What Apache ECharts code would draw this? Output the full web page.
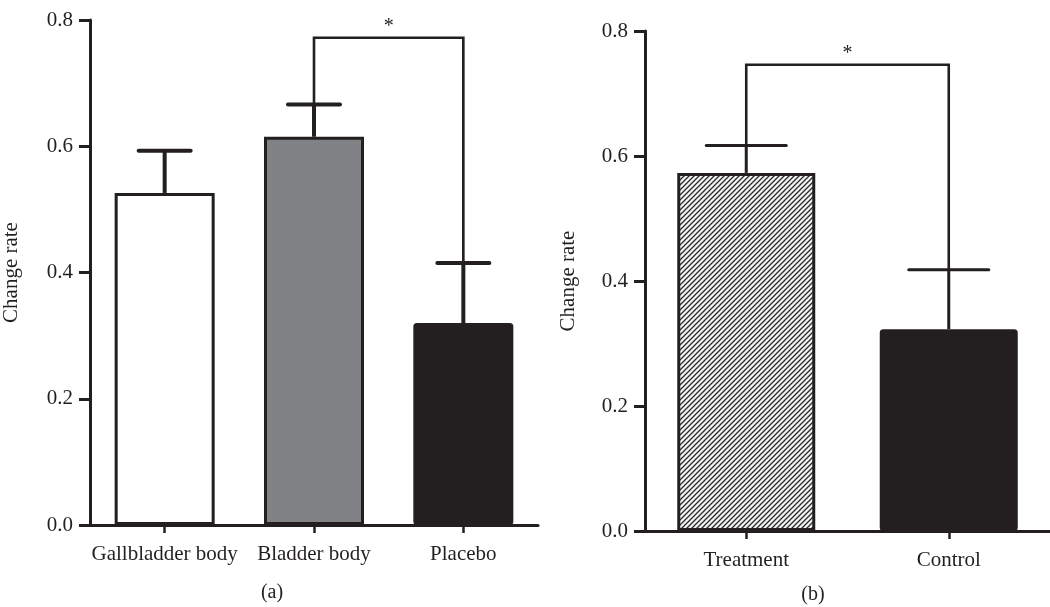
<!DOCTYPE html>
<html>
<head>
<meta charset="utf-8">
<script src="https://cdn.jsdelivr.net/npm/echarts@6/dist/echarts.min.js"></script>
<style>
  html, body { margin: 0; padding: 0; background: #fff; }
  #main { width: 1050px; height: 607px; }
</style>
</head>
<body>
<div id="main"></div>
<script>
// panel (a)
var catsA = ['Gallbladder body', 'Bladder body', 'Placebo'];
var meanA = [0.526, 0.615, 0.32];
var errTopA = [0.593, 0.666, 0.415];
var sigA = [1, 2, 0.772];   // from cat, to cat, bracket height

// panel (b)
var catsB = ['Treatment', 'Control'];
var meanB = [0.573, 0.323];
var errTopB = [0.617, 0.418];
var sigB = [0, 1, 0.746];

var ink = '#231f20';
var font = 'Liberation Serif';

// hatch pattern for the treatment bar
function makeHatch() {
    var c = document.createElement('canvas');
    c.width = 5; c.height = 5;
    var g = c.getContext('2d');
    g.fillStyle = '#f4f4f4';
    g.fillRect(0, 0, 5, 5);
    g.strokeStyle = '#2a2a2a';
    g.lineWidth = 1.3;
    g.beginPath();
    g.moveTo(-1, 6); g.lineTo(6, -1);
    g.moveTo(-1, 1); g.lineTo(1, -1);
    g.moveTo(4, 6); g.lineTo(6, 4);
    g.stroke();
    return c;
}
var hatch = { image: makeHatch(), repeat: 'repeat' };

var fillA = ['#ffffff', '#808285', ink];
var fillB = [hatch, ink];

function errSeries(axisIdx, means, tops, capW, lw) {
    return {
        type: 'custom',
        xAxisIndex: axisIdx, yAxisIndex: axisIdx,
        z: 5,
        silent: true,
        data: means.map(function (m, i) { return [i, m, tops[i]]; }),
        renderItem: function (params, api) {
            var base = api.coord([api.value(0), api.value(1)]);
            var top = api.coord([api.value(0), api.value(2)]);
            return {
                type: 'group',
                children: [
                    { type: 'line', shape: { x1: top[0], y1: base[1], x2: top[0], y2: top[1] },
                      style: { stroke: ink, lineWidth: lw } },
                    { type: 'line', shape: { x1: top[0] - capW / 2, y1: top[1], x2: top[0] + capW / 2, y2: top[1] },
                      style: { stroke: ink, lineWidth: lw, lineCap: 'round' } }
                ]
            };
        }
    };
}

function sigSeries(axisIdx, sig, tops) {
    return {
        type: 'custom',
        xAxisIndex: axisIdx, yAxisIndex: axisIdx,
        z: 6,
        silent: true,
        data: [[sig[0], sig[1], tops[sig[0]], tops[sig[1]], sig[2]]],
        renderItem: function (params, api) {
            var a = api.coord([api.value(0), api.value(2)]);
            var b = api.coord([api.value(1), api.value(3)]);
            var ya = api.coord([api.value(0), api.value(4)]);
            var yb = api.coord([api.value(1), api.value(4)]);
            return {
                type: 'group',
                children: [
                    { type: 'polyline', shape: { points: [a, ya, yb, b] },
                      style: { stroke: ink, lineWidth: 2.6, fill: null } },
                    { type: 'text', x: (ya[0] + yb[0]) / 2, y: ya[1] - 11,
                      style: { text: '*', fontSize: 20, fontFamily: font, fill: ink,
                               textAlign: 'center', textVerticalAlign: 'middle' } }
                ]
            };
        }
    };
}

function xAx(idx, cats) {
    return {
        type: 'category', gridIndex: idx, data: cats,
        axisLine: { show: true, lineStyle: { color: ink, width: 3 } },
        axisTick: { show: true, alignWithLabel: true, length: 8, lineStyle: { color: ink, width: 2.5 } },
        axisLabel: { show: true, interval: 0, hideOverlap: false, color: ink, fontFamily: font,
                     fontSize: 21, margin: 19 }
    };
}
function yAx(idx, gap) {
    return {
        type: 'value', gridIndex: idx, min: 0, max: 0.8, interval: 0.2,
        name: 'Change rate', nameLocation: 'middle', nameGap: gap,
        nameTextStyle: { color: ink, fontFamily: font, fontSize: 21 },
        splitLine: { show: false },
        axisLine: { show: true, lineStyle: { color: ink, width: 3 } },
        axisTick: { show: true, length: 11, lineStyle: { color: ink, width: 3 } },
        axisLabel: { color: ink, fontFamily: font, fontSize: 21, margin: 17,
                     formatter: function (v) { return v.toFixed(1); } }
    };
}

var option = {
    animation: false,
    backgroundColor: '#ffffff',
    grid: [
        { left: 88, top: 20, width: 450, height: 505 },
        { left: 645, top: 31, width: 414, height: 500 }
    ],
    xAxis: [xAx(0, catsA), xAx(1, catsB)],
    yAxis: [yAx(0, 68), yAx(1, 66)],
    graphic: [
        { type: 'text', x: 272, y: 593, style: { text: '(a)', fontSize: 20, fontFamily: font, fill: ink,
          textAlign: 'center', textVerticalAlign: 'middle' } },
        { type: 'text', x: 813, y: 595, style: { text: '(b)', fontSize: 20, fontFamily: font, fill: ink,
          textAlign: 'center', textVerticalAlign: 'middle' } }
    ],
    series: [
        {
            type: 'bar', xAxisIndex: 0, yAxisIndex: 0, barWidth: 100, z: 3,
            data: meanA.map(function (v, i) {
                return { value: v, itemStyle: { color: fillA[i], borderColor: ink, borderWidth: 3,
                         borderRadius: i === 2 ? 2 : 0 } };
            })
        },
        {
            type: 'bar', xAxisIndex: 1, yAxisIndex: 1, barWidth: 138, z: 3,
            data: meanB.map(function (v, i) {
                return { value: v, itemStyle: { color: fillB[i], borderColor: ink, borderWidth: 3,
                         borderRadius: i === 1 ? 2 : 0 } };
            })
        },
        errSeries(0, meanA, errTopA, 52, 4),
        errSeries(1, meanB, errTopB, 80, 3),
        sigSeries(0, sigA, errTopA),
        sigSeries(1, sigB, errTopB)
    ]
};

var chart = echarts.init(document.getElementById('main'));
chart.setOption(option);
</script>
</body>
</html>
